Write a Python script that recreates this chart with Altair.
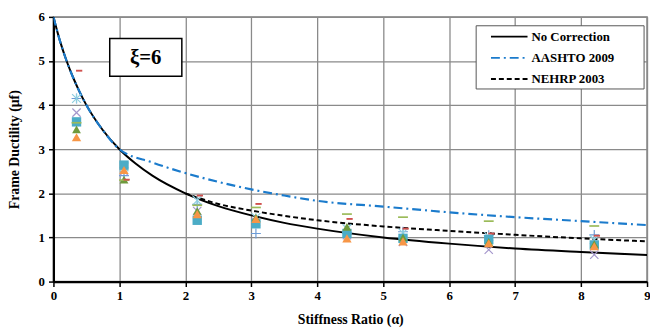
import altair as alt
import pandas as pd
import numpy as np

# ---- Curves ----
nc_x = [0, 0.1, 0.2, 0.3, 0.4, 0.5, 0.75, 1, 1.25, 1.5, 2, 2.5, 3, 3.5, 4, 5, 6, 7, 8, 9]
nc_y = [6, 5.45, 5.0, 4.62, 4.29, 4.0, 3.43, 3.0, 2.67, 2.4, 2.0, 1.71, 1.5, 1.33, 1.2, 1.0, 0.86, 0.75, 0.67, 0.6]

aa_x = [0, 0.1, 0.2, 0.3, 0.4, 0.5, 0.75, 1, 1.5, 2, 2.5, 3, 3.5, 4, 5, 6, 7, 8, 9]
aa_y = [6, 5.45, 5.0, 4.62, 4.29, 4.0, 3.43, 3.0, 2.7, 2.46, 2.26, 2.09, 1.95, 1.83, 1.70, 1.57, 1.46, 1.37, 1.28]

ne_x = [2, 2.5, 3, 3.5, 4, 5, 6, 7, 8, 9]
ne_y = [2.0, 1.76, 1.61, 1.49, 1.39, 1.25, 1.15, 1.06, 0.98, 0.91]

# ---- Scatter series ----
alpha = [0.35, 1.07, 2.18, 3.07, 4.45, 5.3, 6.6, 8.2]
s_red = [4.78, 2.31, 1.95, 1.76, 1.42, 1.20, 1.09, 1.04]
s_star = [4.15, 2.60, 1.84, 1.45, 1.20, 1.10, 1.02, 0.95]
s_xmark = [3.83, 2.50, 1.60, 1.35, 1.05, 0.90, 0.72, 0.61]
s_square = [3.62, 2.64, 1.39, 1.31, 1.09, 0.98, 0.95, 0.83]
s_gtri = [3.45, 2.31, 1.60, 1.45, 1.24, 1.00, 0.90, 0.85]
s_otri = [3.27, 2.53, 1.53, 1.42, 0.98, 0.91, 0.87, 0.80]
s_gdash = [3.60, 2.30, 1.73, 1.68, 1.53, 1.46, 1.37, 1.26]
s_plus = [4.15, 2.40, 1.75, 1.09, 1.10, 1.13, 1.05, 1.06]

x_ticks = [i * 0.5 for i in range(19)]
y_ticks = [i * 0.5 for i in range(13)]

FONT = "Liberation Serif, Times New Roman, DejaVu Serif, serif"

one = pd.DataFrame({"a": [0]})

xscale = alt.Scale(domain=[0, 9], nice=False, zero=False)
yscale = alt.Scale(domain=[0, 6], nice=False, zero=False)

minor_test = "datum.value % 1 != 0"
label_expr = "datum.value % 1 == 0 ? format(datum.value, 'd') : ''"

x_axis = alt.Axis(
    values=x_ticks,
    labelExpr=label_expr,
    title="Stiffness Ratio (α)",
    titleFont=FONT, titleFontSize=14, titleFontWeight="bold", titleColor="black",
    titleY=42, titleBaseline="alphabetic",
    labelFont=FONT, labelFontSize=13, labelFontWeight="bold", labelColor="black",
    labelPadding=3, labelFlush=False,
    tickSize=5, tickColor="black", tickWidth=1.5,
    domainColor="black", domainWidth=2.2,
    gridColor={"condition": {"test": minor_test, "value": "#c4c4c4"}, "value": "#8a8a8a"},
    gridDash={"condition": {"test": minor_test, "value": [1, 2]}, "value": []},
    gridWidth={"condition": {"test": minor_test, "value": 1}, "value": 1.3},
)
y_axis = alt.Axis(
    values=y_ticks,
    labelExpr=label_expr,
    title="Frame Ductility (μf)",
    titleFont=FONT, titleFontSize=14, titleFontWeight="bold", titleColor="black",
    titleX=-39, titleY=134, titleAngle=-90, titleAlign="center", titleBaseline="middle",
    labelFont=FONT, labelFontSize=13, labelFontWeight="bold", labelColor="black",
    labelPadding=4, labelFlush=False,
    tickSize=5, tickColor="black", tickWidth=1.5,
    domainColor="black", domainWidth=2.2,
    gridColor={"condition": {"test": minor_test, "value": "#c4c4c4"}, "value": "#8a8a8a"},
    gridDash={"condition": {"test": minor_test, "value": [1, 2]}, "value": []},
    gridWidth={"condition": {"test": minor_test, "value": 1}, "value": 1.3},
)

base_df = pd.DataFrame({"x": nc_x, "y": nc_y})
nc_line = alt.Chart(base_df).mark_line(color="black", strokeWidth=2, interpolate="monotone", clip=True).encode(
    x=alt.X("x:Q", scale=xscale, axis=x_axis),
    y=alt.Y("y:Q", scale=yscale, axis=y_axis),
)

aa_line = alt.Chart(pd.DataFrame({"x": aa_x, "y": aa_y})).mark_line(
    color="#1B7BCC", strokeWidth=2.2, strokeDash=[9, 4, 2, 4], interpolate="monotone", clip=True
).encode(x=alt.X("x:Q", scale=xscale), y=alt.Y("y:Q", scale=yscale))

ne_line = alt.Chart(pd.DataFrame({"x": ne_x, "y": ne_y})).mark_line(
    color="black", strokeWidth=2, strokeDash=[5, 3], interpolate="monotone", clip=True
).encode(x=alt.X("x:Q", scale=xscale), y=alt.Y("y:Q", scale=yscale))

RED_DASH = "M-1,-0.3L1,-0.3L1,0.3L-1,0.3Z"
GREEN_DASH = "M-1,-0.17L1,-0.17L1,0.17L-1,0.17Z"
XMARK = "M-1,-1L1,1M1,-1L-1,1"
STAR = "M-1,-1L1,1M1,-1L-1,1M0,-1L0,1"
PLUS = "M-1,0L1,0M0,-1L0,1"

specs = [
    (s_plus, 0.0, PLUS, 100, "#6D9CD6", False, 1.2),
    (s_xmark, 0.0, XMARK, 70, "#A597CC", False, 1.2),
    (s_star, 0.0, STAR, 80, "#8FCFE0", False, 1.2),
    (s_square, 0.0, "square", 90, "#4BACC6", True, 0),
    (s_gtri, 0.0, "triangle-up", 80, "#6E9A3C", True, 0),
    (s_otri, 0.0, "triangle-up", 90, "#F79646", True, 0),
    (s_gdash, 0.0, GREEN_DASH, 100, "#9BBB59", True, 0),
    (s_red, 0.04, RED_DASH, 40, "#D0504D", True, 0),
]
marker_layers = []
for vals, dx, shape, size, color, filled, sw in specs:
    df = pd.DataFrame({"x": [a + dx for a in alpha], "y": vals})
    if filled:
        mk = alt.Chart(df).mark_point(shape=shape, size=size, filled=True, fill=color, opacity=1)
    else:
        mk = alt.Chart(df).mark_point(shape=shape, size=size, filled=False, stroke=color, strokeWidth=sw, opacity=1)
    marker_layers.append(mk.encode(x=alt.X("x:Q", scale=xscale), y=alt.Y("y:Q", scale=yscale)))

xi_box = alt.Chart(one).mark_rect(fill="white", stroke="black", strokeWidth=1.5).encode(
    x=alt.value(57), x2=alt.value(130), y=alt.value(22), y2=alt.value(60)
)
xi_text = alt.Chart(one).mark_text(text="ξ=6", font=FONT, fontSize=21, fontWeight="bold", color="black",
                                    align="center", baseline="middle").encode(
    x=alt.value(93.5), y=alt.value(42)
)

leg_box = alt.Chart(one).mark_rect(fill="white", stroke="#555555", strokeWidth=1).encode(
    x=alt.value(428), x2=alt.value(598), y=alt.value(9), y2=alt.value(73)
)
leg_rows = [
    ("No Correction", 20, "black", []),
    ("AASHTO 2009", 41.5, "#1B7BCC", [9, 4, 2, 4]),
    ("NEHRP 2003", 63, "black", [5, 3]),
]
leg_layers = [leg_box]
for label, yy, col, dash in leg_rows:
    if dash:
        r = alt.Chart(one).mark_rule(color=col, strokeWidth=2, strokeDash=dash)
    else:
        r = alt.Chart(one).mark_rule(color=col, strokeWidth=2)
    leg_layers.append(r.encode(x=alt.value(443), x2=alt.value(480), y=alt.value(yy), y2=alt.value(yy)))
    leg_layers.append(
        alt.Chart(one).mark_text(text=label, font=FONT, fontSize=13, fontWeight="bold", color="black",
                                 align="left", baseline="middle").encode(x=alt.value(484), y=alt.value(yy))
    )

chart = alt.layer(
    nc_line, aa_line, ne_line, *marker_layers, xi_box, xi_text, *leg_layers
).properties(
    width=601, height=268,
    autosize=alt.AutoSizeParams(type="none"),
    padding={"left": 46, "top": 7, "right": 3, "bottom": 44},
    background="white",
).configure_view(stroke="#7f7f7f", strokeWidth=1.5)

chart.save("out.html", embed_options={"renderer": "svg", "actions": False})
